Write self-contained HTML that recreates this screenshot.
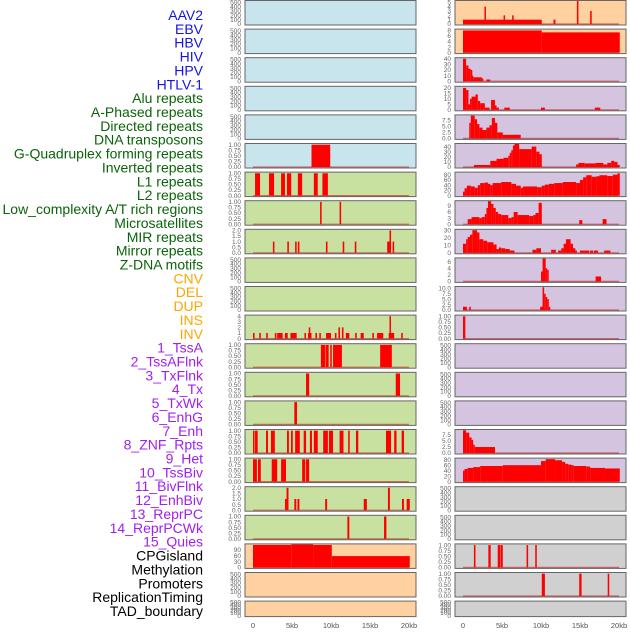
<!DOCTYPE html>
<html><head><meta charset="utf-8"><style>
body{margin:0;width:630px;height:630px;background:#fff;overflow:hidden;font-family:"Liberation Sans",sans-serif}
</style></head><body>
<svg id="c" width="630" height="630" xmlns="http://www.w3.org/2000/svg"></svg>
<script>
const trackLabels=["AAV2","EBV","HBV","HIV","HPV","HTLV-1","Alu repeats","A-Phased repeats","Directed repeats","DNA transposons","G-Quadruplex forming repeats","Inverted repeats","L1 repeats","L2 repeats","Low_complexity A/T rich regions","Microsatellites","MIR repeats","Mirror repeats","Z-DNA motifs","CNV","DEL","DUP","INS","INV","1_TssA","2_TssAFlnk","3_TxFlnk","4_Tx","5_TxWk","6_EnhG","7_Enh","8_ZNF_Rpts","9_Het","10_TssBiv","11_BivFlnk","12_EnhBiv","13_ReprPC","14_ReprPCWk","15_Quies","CPGisland","Methylation","Promoters","ReplicationTiming","TAD_boundary"];
const labelColors=[[6,"#1414e6"],[13,"#0a640a"],[5,"#ffa500"],[15,"#a020f0"],[5,"#000"]];
const xTicks=[0,5,10,15,20];
const xTickLabels=["0","5kb","10kb","15kb","20kb"];
const E=[0,100,200,300,400,500];
const P1=[0,0.25,0.5,0.75,1.0];
// left column: [bg, ticks, tickLabels, ymax, segments [startKb,endKb,value]]
const leftBg=["#c8e4ec","#c8e4ec","#c8e4ec","#c8e4ec","#c8e4ec","#c8e4ec","#c8e0a0","#c8e0a0","#c8e0a0","#c8e0a0","#c8e0a0","#c8e0a0","#c8e0a0","#c8e0a0","#c8e0a0","#c8e0a0","#c8e0a0","#c8e0a0","#c8e0a0","#ffd0a0","#ffd0a0","#ffd0a0"];
const rightBg=["#ffd0a0","#ffd0a0","#d4c4e0","#d4c4e0","#d4c4e0","#d4c4e0","#d4c4e0","#d4c4e0","#d4c4e0","#d4c4e0","#d4c4e0","#d4c4e0","#d4c4e0","#d4c4e0","#d4c4e0","#d4c4e0","#d4c4e0","#d0d0d0","#d0d0d0","#d0d0d0","#d0d0d0","#d0d0d0"];
const leftTicks=[E,E,E,E,E,P1,P1,P1,[0,0.5,1,1.5,2],E,E,[0,1,2,3,4],P1,P1,P1,P1,P1,[0,0.5,1,1.5,2],P1,[0,30,60,90],E,E];
const leftYmax=[530,530,530,530,530,1.03,1.03,1.03,2.05,530,530,4.1,1.03,1.03,1.03,1.03,1.03,2.05,1.03,118,530,530];
const leftSeg=[[],[],[],[],[],
[[7.5,9.9,1]],
[[0.26,0.9,1],[2.05,2.7,1],[3.6,4.1,1],[4.35,4.9,1],[5.75,6.3,1],[7.8,8.3,1],[8.9,9.6,1]],
[[8.6,8.8,1],[11.1,11.3,1]],
[[2.55,2.75,1],[4.4,4.6,1],[5.4,5.6,1],[5.75,5.95,1],[9.35,9.55,1],[11.5,11.7,1],[13.05,13.25,1],[17.2,17.5,1],[17.5,17.7,2],[17.9,18.1,1]],
[],[],
[[0,0.2,1],[0.8,1.0,1],[1.7,1.9,1],[2.8,3.0,1],[3.1,3.8,1],[4.1,4.45,1],[4.8,5.6,1],[6.6,6.8,1],[7.05,7.15,1],[7.15,7.3,2],[7.3,7.5,1],[8.0,8.2,1],[8.5,8.7,1],[9.36,10.0,1],[10.5,10.7,1],[10.95,11.15,2],[11.4,11.6,2],[11.9,12.35,1],[13.1,13.3,1],[13.8,14.2,1],[15.3,15.5,1],[15.9,16.7,1],[17.4,17.5,1],[17.5,17.65,4],[17.65,18.1,1],[19.0,19.2,1]],
[[8.7,9.3,1],[9.36,9.7,1],[9.9,10.1,1],[10.26,11.4,1],[16.3,17.8,1]],
[[6.8,7.2,1],[18.3,18.85,1]],
[[5.3,5.64,1]],
[[0,0.15,1],[0.26,0.6,1],[1.67,1.92,1],[2.3,2.8,1],[4.36,4.6,1],[4.87,5.1,1],[5.4,6.0,1],[6.5,6.8,1],[7.3,7.56,1],[7.8,8.3,1],[9.0,9.6,1],[9.74,10.26,1],[11.1,11.6,1],[12.2,12.4,1],[13.2,13.5,1],[17.05,17.7,1],[18.1,18.4,1],[19.06,19.36,1]],
[[0,0.5,1],[0.64,1.0,1],[2.4,3.1,1],[3.6,4.23,1],[6.3,6.7,1],[6.8,7.2,1]],
[[4.1,4.3,1],[4.3,4.55,2],[5.3,5.55,1],[5.7,5.95,1],[9.25,9.5,1],[14.2,14.6,1],[17.3,17.55,2],[19.1,19.35,1],[19.7,20.1,1]],
[[12.1,12.35,1],[16.8,17.1,1]],
[[0,4.9,115],[4.9,7.7,118],[7.7,10.1,115],[10.1,20.1,58]],
[],[]];
const rightTicks=[[0,1,2,3,4,5],[0,2,4,6,8],[0,10,20,30,40],[0,5,10,15,20],[0,2.5,5,7.5],[0,10,20,30,40],[0,20,40,60,80],[0,3,6,9],[0,10,20,30],[0,2,4,6],[0,2.5,5,7.5,10],P1,E,E,E,[0,2.5,5,7.5],[0,20,40,60,80],E,E,P1,P1,E];
const rightYmax=[5.3,8.3,41,21,9.6,45,88,11.3,30.5,7,10.6,1.03,530,530,530,9.6,84,530,530,1.03,1.03,530];
const rightSeg=[
[[0,10.1,1],[2.75,2.9,4],[5.2,5.35,2],[6.3,6.45,2],[11.6,11.85,1],[14.6,14.8,5.3],[16.3,16.5,3]],
[[0,10.1,8],[10.1,20.1,7.3]],
[[0,0.4,40],[0.4,0.7,28],[0.7,1.0,22],[1.0,1.1,20],[1.1,1.3,10],[1.3,2.4,7],[2.4,2.6,5],[3.0,3.5,3]],
[[0,0.4,20],[0.4,0.7,18],[0.7,0.9,5],[0.9,1.1,10],[1.1,1.6,12],[1.6,1.9,14],[1.9,2.2,8],[2.2,2.8,6],[2.8,3.4,2],[3.6,4.1,9],[4.1,4.3,4],[4.3,4.6,2],[5.3,6.0,2],[10.0,10.5,2],[16.9,17.6,2]],
[[0.8,1.0,6.5],[1.0,1.5,9.5],[1.5,1.8,8],[1.8,2.1,6],[2.1,2.5,4.5],[2.5,3.0,3.5],[3.0,3.4,4.5],[3.4,3.7,5.5],[3.7,4.1,8.5],[4.1,4.4,6.5],[4.4,5.1,2.5],[5.1,7.4,1.5]],
[[1.4,3.5,4],[3.5,4.3,12],[4.3,5.2,16],[5.2,5.8,18],[5.8,6.0,22],[6.0,6.2,28],[6.2,6.4,33],[6.4,6.6,42],[6.6,7.2,45],[7.2,8.8,35],[8.8,9.4,40],[9.4,9.8,30],[9.8,10.1,25],[14.5,14.8,5],[14.8,15.6,8],[15.6,17.0,7],[17.0,18.0,8],[18.0,18.5,5],[18.5,19.0,8],[19.0,19.4,12],[19.4,19.8,10],[19.8,20.1,4]],
[[0,0.2,15],[0.2,0.5,28],[0.5,1.0,38],[1.0,1.5,35],[1.5,1.9,30],[1.9,2.2,40],[2.2,2.8,48],[2.8,3.2,50],[3.2,3.5,45],[3.5,3.8,40],[3.8,4.9,48],[4.9,6.2,52],[6.2,6.8,45],[6.8,7.4,38],[7.4,7.7,30],[7.7,9.5,35],[9.5,10.1,32],[10.1,10.5,38],[10.5,11.0,42],[11.0,11.7,45],[11.7,12.8,48],[12.8,14.5,52],[14.5,15.0,48],[15.0,15.4,60],[15.4,15.8,70],[15.8,16.5,78],[16.5,17.1,72],[17.1,17.5,74],[17.5,18.5,78],[18.5,19.2,75],[19.2,19.8,80],[19.8,20.1,85]],
[[0.6,1.1,2.5],[1.1,2.1,3.5],[2.1,2.4,3],[2.4,2.8,3.5],[2.8,3.0,5],[3.0,3.2,8],[3.2,3.6,11.3],[3.6,3.9,10],[3.9,4.2,8],[4.2,4.5,6],[4.5,4.9,5],[4.9,5.8,4.5],[5.8,6.2,3],[6.2,6.5,3.5],[6.5,7.0,6],[7.0,8.5,4.5],[8.5,9.0,4],[9.0,9.3,4.5],[9.3,9.7,5.5],[9.7,10.1,10.5],[14.9,15.3,2],[17.9,18.4,2.5]],
[[0,0.4,12],[0.4,0.6,18],[0.6,0.9,21],[0.9,1.2,24],[1.2,1.8,30],[1.8,2.1,27],[2.1,2.6,18],[2.6,3.1,16],[3.1,3.9,14],[3.9,4.3,11],[4.3,4.6,5],[4.6,4.9,7],[4.9,5.4,6],[5.4,6.0,5],[6.0,6.6,3],[8.9,9.4,4],[9.4,10.0,6],[11.3,11.9,4],[12.2,12.6,3],[12.6,12.9,6],[12.9,13.2,12],[13.2,13.8,18],[13.8,14.1,12],[14.1,14.4,6],[14.4,14.6,3],[15.0,16.2,3],[16.3,16.7,3],[16.8,17.3,3],[18.1,18.9,3]],
[[10.0,10.2,3],[10.2,10.6,7],[10.6,10.8,4],[10.8,10.9,3.5],[17.0,17.7,1.5]],
[[0,0.5,1.5],[0.8,1.0,1.5],[9.9,10.2,1.5],[10.2,10.4,10.5],[10.4,10.6,7.5],[10.6,10.8,6],[10.8,11.0,5],[11.0,11.1,1.5]],
[[0,0.3,1]],
[],[],[],
[[0,0.4,9.5],[0.4,0.8,8.5],[0.8,1.1,6.5],[1.1,1.3,5.5],[1.3,1.5,3.5],[1.5,4.1,2.5]],
[[0,0.2,40],[0.2,0.6,46],[0.6,1.3,50],[1.3,2.2,53],[2.2,5.1,57],[5.1,10.0,60],[10.0,10.6,75],[10.6,11.8,82],[11.8,12.7,78],[12.7,13.1,72],[13.1,13.5,65],[13.5,13.9,62],[13.9,14.2,60],[14.2,15.8,57],[15.8,16.3,55],[16.3,18.2,50],[18.2,20.1,48]],
[],[],
[[1.4,1.6,1],[3.25,3.55,1],[4.45,4.75,1],[4.8,5.1,1],[8.15,8.35,1],[9.26,9.46,1]],
[[10.1,10.5,1],[14.9,15.2,1],[18.55,18.75,1]],
[]];

const NS="http://www.w3.org/2000/svg";
const svg=document.getElementById('c');
function mk(t,a,p){const e=document.createElementNS(NS,t);for(const k in a)e.setAttribute(k,a[k]);(p||svg).appendChild(e);return e;}
// labels
let li=0;
labelColors.forEach(([n,col])=>{for(let j=0;j<n;j++){const t=mk('text',{x:203,y:15+li*13.86+5,'text-anchor':'end','font-size':14,fill:col,'font-family':'"Liberation Sans",sans-serif'});


t.textContent=trackLabels[li];li++;}});
const cols=[{x0:245,w:171,z:253,bg:leftBg,ticks:leftTicks,ymax:leftYmax,seg:leftSeg,name:'left'},{x0:455,w:171,z:463,bg:rightBg,ticks:rightTicks,ymax:rightYmax,seg:rightSeg,name:'right'}];
const kbPx=7.8;
cols.forEach(c=>{
  const xs=kb=>c.z+kb*kbPx;
  for(let i=0;i<22;i++){
    const top=0.5+i*28.6, h=(i==21)?15.5:24.5, base=top+h-1;
    const g=mk('g',{});
    
    
    mk('rect',{x:c.x0,y:top,width:c.w,height:h,fill:c.bg[i],stroke:'#666','stroke-width':1},g);
    const ys=v=>base-(v/c.ymax[i])*(h-1.5);
    c.ticks[i].forEach(v=>{const t=mk('text',{x:c.x0-4,y:ys(v)+2.2,'text-anchor':'end','font-size':6.5,fill:'#666'},g);
      
      
      t.textContent=(c.ticks[i]===P1?v.toFixed(2):(c.ticks[i].some(q=>q%1)?v.toFixed(1):String(v)));});
    if(c.seg[i].length){
      const bl=mk('line',{x1:xs(0),x2:xs(20),y1:base,y2:base,stroke:'rgba(190,0,0,0.5)','stroke-width':1.2},g);
      
      
      c.seg[i].forEach(s=>{const r=mk('rect',{x:xs(s[0]),y:ys(s[2]),width:Math.max(1.5,xs(s[1])-xs(s[0])),height:base-ys(s[2]),fill:'#ff0000'},g);
        
        });
    }
  }
  xTicks.forEach((v,k)=>{const t=mk('text',{x:xs(v),y:628,'text-anchor':'middle','font-size':7.5,fill:'#555'});
    
    
    t.textContent=xTickLabels[k];});
});
</script>
</body></html>
